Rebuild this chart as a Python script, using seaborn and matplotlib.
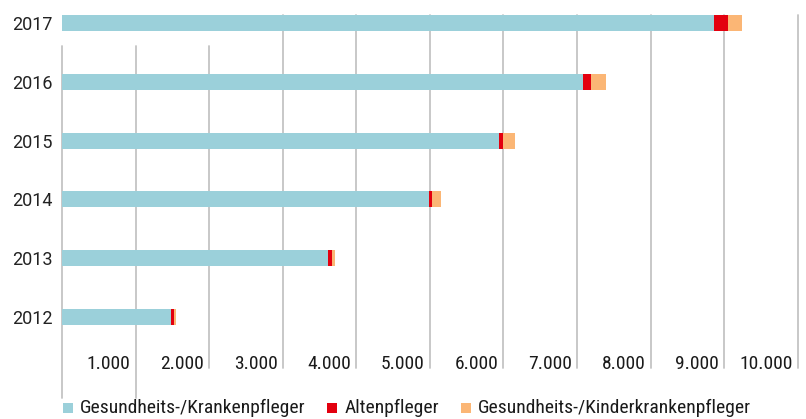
import matplotlib
matplotlib.use("Agg")
import matplotlib.pyplot as plt
import matplotlib.transforms as mtransforms
from matplotlib.patches import Rectangle
import seaborn as sns
import pandas as pd

years = ["2017", "2016", "2015", "2014", "2013", "2012"]
kranken = [8857, 7088, 5946, 4993, 3619, 1483]
alten = [190, 109, 54, 41, 54, 41]
kinder = [190, 204, 163, 122, 41, 27]
series_names = ["Gesundheits-/Krankenpfleger", "Altenpfleger",
                "Gesundheits-/Kinderkrankenpfleger"]
colors = ["#9bd0da", "#e3000f", "#fbb675"]
tick_values = [1000, 2000, 3000, 4000, 5000, 6000, 7000, 8000, 9000, 10000]
tick_labels = ["1.000", "2.000", "3.000", "4.000", "5.000", "6.000",
               "7.000", "8.000", "9.000", "10.000"]

sns.set_style("white")
narrow = ["Roboto Condensed", "DejaVu Sans"]
regular = ["Roboto", "DejaVu Sans"]
plt.rcParams["font.family"] = regular

W, H = 806, 419
fig = plt.figure(figsize=(W / 100, H / 100), dpi=100)
ax_left, ax_right = 62, 797.7
ax_top, ax_bot = 15, 368
ax = fig.add_axes([ax_left / W, 1 - ax_bot / H, (ax_right - ax_left) / W, (ax_bot - ax_top) / H])

df = pd.DataFrame({"year": years, "k": kranken, "a": alten, "c": kinder})
df["total"] = df.k + df.a + df.c
df["ka"] = df.k + df.a

bw = 0.27
for col, c in [("total", colors[2]), ("ka", colors[1]), ("k", colors[0])]:
    sns.barplot(data=df, y="year", x=col, order=years, color=c, width=bw,
                saturation=1, ax=ax, orient="h")
for p in ax.patches:
    p.set_linewidth(0)
    p.set_zorder(3)

px_per_unit = 58.8
ylo = 5 + (ax_bot - 317) / px_per_unit
yhi = 0 - (23 - ax_top) / px_per_unit
ax.set_ylim(ylo, yhi)
ax.set_xlim(0, 10000)
for s in ax.spines.values():
    s.set_visible(False)
ax.set_xlabel("")
ax.set_ylabel("")
ax.set_xticks([])
ax.tick_params(axis="y", length=0, pad=7, labelsize=13, labelcolor="#222222")
for t in ax.get_yticklabels():
    t.set_fontfamily(regular)

def px_to_ax(y):
    return (ax_bot - y) / (ax_bot - ax_top)

grid_col = "#c4c4c4"
for v in [0] + tick_values:
    top = 46 if v <= 2000 else ax_top
    bot = 398 if v <= 1000 else ax_bot
    ax.axvline(v, ymin=px_to_ax(bot), ymax=px_to_ax(top), color=grid_col,
               lw=1.3, zorder=1, clip_on=False)

trans = mtransforms.blended_transform_factory(ax.transData, fig.transFigure) + \
    mtransforms.ScaledTranslation(-5 / 100, 0, fig.dpi_scale_trans)
for v, lab in zip(tick_values, tick_labels):
    ax.text(v, 1 - 368.5 / H, lab, transform=trans, ha="right", va="baseline",
            fontsize=14, family=narrow, color="#1a1a1a")

fig.canvas.draw()
renderer = fig.canvas.get_renderer()
x = 62.5
y_base = 1 - 413 / H
for name, col in zip(series_names, colors):
    fig.patches.append(Rectangle((x / W, 1 - 413 / H), 10 / W, 10 / H,
                                 transform=fig.transFigure, facecolor=col,
                                 edgecolor="none"))
    t = fig.text((x + 17) / W, y_base, name, ha="left", va="baseline",
                 fontsize=14, family=narrow, color="#1a1a1a")
    bb = t.get_window_extent(renderer)
    x = bb.x1 + 22

fig.savefig("out.png", dpi=100)
